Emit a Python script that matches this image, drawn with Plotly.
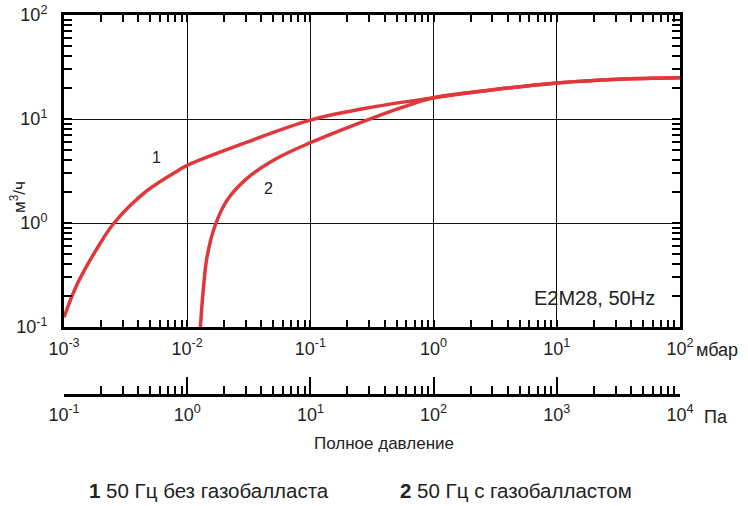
import plotly.graph_objects as go

# Curve 1: 50 Hz without gas ballast (total pressure in mbar, pumping speed in m3/h)
p1 = [0.00100, 0.00129, 0.00193, 0.00255, 0.00461, 0.00859, 0.0107, 0.0306, 0.100, 0.316, 1.00, 3.16, 10.0, 31.6, 100.0]
s1 = [0.124, 0.263, 0.614, 1.00, 2.00, 3.24, 3.72, 6.0, 9.75, 13.0, 16.0, 19.2, 22.2, 24.1, 24.9]
# Curve 2: 50 Hz with gas ballast
p2 = [0.0128, 0.0135, 0.0145, 0.0169, 0.0211, 0.0306, 0.0536, 0.100, 0.288, 0.570, 1.00, 3.16, 10.0, 31.6, 100.0]
s2 = [0.100, 0.227, 0.474, 0.957, 1.66, 2.69, 4.19, 5.92, 9.77, 13.1, 16.0, 19.2, 22.2, 24.1, 24.9]

mbar_ticks = [1e-3, 1e-2, 1e-1, 1e0, 1e1, 1e2]
mbar_text = ["10<sup>-3</sup>", "10<sup>-2</sup>", "10<sup>-1</sup>", "10<sup>0</sup>", "10<sup>1</sup>", "10<sup>2</sup>"]
pa_ticks = [1e-1, 1e0, 1e1, 1e2, 1e3, 1e4]
pa_text = ["10<sup>-1</sup>", "10<sup>0</sup>", "10<sup>1</sup>", "10<sup>2</sup>", "10<sup>3</sup>", "10<sup>4</sup>"]
s_ticks = [1e-1, 1e0, 1e1, 1e2]
s_text = ["10<sup>-1</sup>", "10<sup>0</sup>", "10<sup>1</sup>", "10<sup>2</sup>"]

def minors(lo, hi):
    out = []
    for e in range(lo, hi):
        for m in range(2, 10):
            out.append(m * 10.0 ** e)
    return out

RED = "#E0373A"
FONT = "Liberation Sans, Arial, sans-serif"

fig = go.Figure()
for xs, ys in ((p1, s1), (p2, s2)):
    fig.add_trace(go.Scatter(x=xs, y=ys, mode="lines",
                             line=dict(color=RED, width=3.5, shape="spline", smoothing=1.0),
                             showlegend=False, hoverinfo="skip"))
fig.add_trace(go.Scatter(x=[pa_ticks[0], pa_ticks[-1]], y=[1, 1], mode="markers", marker=dict(opacity=0),
                         xaxis="x2", showlegend=False, hoverinfo="skip"))

W, H = 748, 506
L, R, T, B = 64, 68, 15, 111
paper_h = H - T - B
plot_bottom = 327
dom0 = (H - B - plot_bottom) / paper_h

def px(xp):
    return (xp - L) / (W - L - R)

def py(yp):
    return (H - B - yp) / paper_h

tickfont = dict(family=FONT, size=18, color="#222")

fig.update_layout(
    width=W, height=H,
    margin=dict(l=L, r=R, t=T, b=B),
    paper_bgcolor="white", plot_bgcolor="white",
    xaxis=dict(type="log", range=[-3, 2], tickvals=mbar_ticks, ticktext=mbar_text, automargin=False,
               showline=True, linewidth=3, linecolor="black", mirror="allticks",
               ticks="inside", ticklen=7, tickwidth=1.5, tickcolor="black",
               showgrid=True, gridcolor="#111", gridwidth=1.2, zeroline=False,
               tickfont=tickfont, ticklabelstandoff=3, ticklabeloverflow="allow",
               minor=dict(tickvals=minors(-3, 2), ticks="inside", ticklen=7, tickwidth=1.5,
                          tickcolor="black", showgrid=False)),
    xaxis2=dict(type="log", range=[-1, 4], tickvals=pa_ticks, ticktext=pa_text, overlaying="x",
                anchor="free", position=0, side="bottom", automargin=False,
                showline=True, linewidth=3, linecolor="black",
                ticks="inside", ticklen=17, tickwidth=2, tickcolor="black",
                showgrid=False, zeroline=False, tickfont=tickfont, ticklabelstandoff=2,
                ticklabeloverflow="allow",
                minor=dict(tickvals=minors(-1, 4), ticks="inside", ticklen=8, tickwidth=1.5,
                           tickcolor="black", showgrid=False)),
    yaxis=dict(type="log", range=[-1, 2], domain=[dom0, 1], tickvals=s_ticks, ticktext=s_text,
               automargin=False,
               showline=True, linewidth=3, linecolor="black", mirror="allticks",
               ticks="inside", ticklen=8, tickwidth=1.5, tickcolor="black",
               showgrid=True, gridcolor="#111", gridwidth=1.2, zeroline=False,
               tickfont=tickfont, ticklabelstandoff=10, ticklabeloverflow="allow",
               minor=dict(tickvals=minors(-1, 2), ticks="inside", ticklen=8, tickwidth=1.5,
                          tickcolor="black", showgrid=False)),
)

ann = [
    dict(text="мбар", x=px(694), y=py(350), xanchor="left", yanchor="middle", font=dict(size=18)),
    dict(text="Па", x=px(702), y=py(417), xanchor="left", yanchor="middle", font=dict(size=18)),
    dict(text="Полное давление", x=px(384), y=py(443), xanchor="center", yanchor="middle", font=dict(size=17)),
    dict(text="E2M28, 50Hz", x=px(594), y=py(298), xanchor="center", yanchor="middle", font=dict(size=20)),
    dict(text="1", x=px(156), y=py(158), xanchor="center", yanchor="middle", font=dict(size=16)),
    dict(text="2", x=px(268), y=py(188), xanchor="center", yanchor="middle", font=dict(size=16)),
    dict(text="м<sup>3</sup>/ч", x=px(18), y=py(197), xanchor="center", yanchor="middle", textangle=-90,
         font=dict(size=17)),
    dict(text="<b>1</b> 50 Гц без газобалласта", x=px(87), y=py(491), xanchor="left", yanchor="middle",
         font=dict(size=20.5)),
    dict(text="<b>2</b> 50 Гц с газобалластом", x=px(398), y=py(491), xanchor="left", yanchor="middle",
         font=dict(size=20.5)),
]
for a in ann:
    a.update(xref="paper", yref="paper", showarrow=False)
    a["font"].update(family=FONT, color="#222")
fig.update_layout(annotations=ann)

# remove the browser's default 8px body margin so the figure sits at the page origin
fig.write_html("out.html", config={"displayModeBar": False},
               post_script="document.body.style.margin='0px';")
